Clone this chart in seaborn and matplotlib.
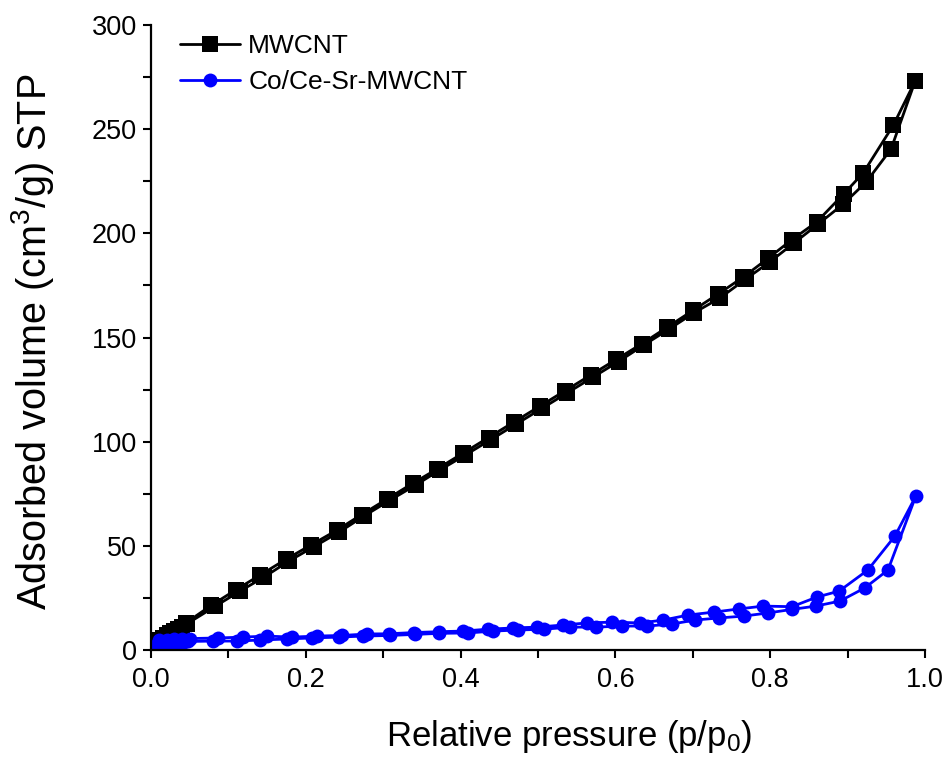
import matplotlib
matplotlib.use("Agg")
import matplotlib.pyplot as plt
import seaborn as sns
import pandas as pd
from matplotlib.ticker import MultipleLocator, FormatStrFormatter

# N2 adsorption / desorption isotherms (p/p0 vs adsorbed volume, cm3/g STP)
mw_ads_p = [0.005, 0.010, 0.015, 0.020, 0.025, 0.030, 0.035, 0.040, 0.046,
            0.083, 0.115, 0.146, 0.178, 0.210, 0.243, 0.275, 0.309, 0.342,
            0.373, 0.406, 0.439, 0.472, 0.505, 0.538, 0.571, 0.604, 0.637,
            0.669, 0.702, 0.735, 0.768, 0.800, 0.831, 0.862, 0.894, 0.924,
            0.956, 0.987]
mw_ads_v = [4.0, 5.0, 6.0, 7.0, 8.0, 9.0, 10.0, 11.0, 12.5,
            21.0, 28.3, 35.0, 42.7, 49.5, 56.6, 64.3, 72.0, 79.2,
            86.4, 93.6, 101.0, 108.5, 116.0, 123.5, 131.0, 138.5, 146.5,
            154.0, 162.0, 169.0, 178.0, 186.5, 195.5, 204.5, 214.0, 224.7,
            240.5, 273.0]
mw_des_p = [0.959, 0.920, 0.895, 0.860, 0.828, 0.797, 0.765, 0.733, 0.700,
            0.667, 0.634, 0.601, 0.568, 0.535, 0.502, 0.469, 0.436, 0.403,
            0.370, 0.338, 0.305, 0.272, 0.240, 0.207, 0.174, 0.141, 0.110,
            0.078, 0.045]
mw_des_v = [252.0, 229.0, 219.0, 205.5, 197.0, 188.0, 179.0, 171.0, 163.0,
            155.0, 147.0, 139.5, 132.0, 124.5, 117.0, 109.5, 102.0, 94.5,
            87.0, 80.0, 72.5, 65.0, 57.5, 50.5, 43.5, 36.0, 29.0,
            21.5, 13.0]

co_ads_p = [0.002, 0.005, 0.008, 0.012, 0.016, 0.020, 0.025, 0.030, 0.036,
            0.042, 0.048, 0.080, 0.111, 0.141, 0.176, 0.208, 0.243, 0.274,
            0.309, 0.341, 0.372, 0.410, 0.442, 0.474, 0.508, 0.541, 0.575,
            0.608, 0.641, 0.673, 0.703, 0.734, 0.766, 0.797, 0.828, 0.859,
            0.890, 0.922, 0.952, 0.988]
co_ads_v = [1.5, 2.0, 2.4, 2.8, 3.1, 3.3, 3.5, 3.7, 3.9,
            4.0, 4.1, 4.3, 4.3, 4.8, 5.3, 5.8, 6.2, 6.7,
            7.0, 7.5, 8.0, 8.2, 9.1, 9.6, 10.0, 11.0, 11.0,
            11.5, 11.5, 12.5, 14.4, 15.4, 16.3, 17.8, 19.5, 21.1,
            23.5, 29.8, 38.4, 73.9]
co_des_p = [0.961, 0.926, 0.889, 0.860, 0.828, 0.791, 0.759, 0.727, 0.694,
            0.662, 0.632, 0.596, 0.563, 0.532, 0.499, 0.468, 0.435, 0.403,
            0.372, 0.340, 0.307, 0.279, 0.247, 0.214, 0.182, 0.150, 0.119,
            0.087, 0.050, 0.040, 0.030, 0.020, 0.010]
co_des_v = [54.7, 38.4, 28.3, 25.4, 20.8, 21.1, 19.7, 18.2, 16.8,
            14.4, 13.0, 13.4, 13.0, 12.0, 11.0, 10.6, 10.0, 9.1,
            8.8, 8.4, 7.8, 7.7, 7.0, 6.7, 6.2, 6.7, 6.2,
            5.8, 5.5, 5.3, 5.1, 4.9, 4.7]

samples = ["MWCNT", "Co/Ce-Sr-MWCNT"]
colors = ["#000000", "#0000FF"]
markers = ["s", "o"]

frames = []
for name, p, v in [(samples[0], mw_ads_p + mw_des_p, mw_ads_v + mw_des_v),
                   (samples[1], co_ads_p + co_des_p, co_ads_v + co_des_v)]:
    frames.append(pd.DataFrame({"p": p, "v": v, "sample": name,
                                "order": range(len(p))}))
df = pd.concat(frames, ignore_index=True)

sns.set_style("ticks")
plt.rcParams["font.family"] = ["Liberation Sans", "DejaVu Sans"]
plt.rcParams["mathtext.default"] = "regular"
plt.rcParams["text.color"] = "black"
plt.rcParams["axes.labelcolor"] = "black"

fig = plt.figure(figsize=(9.44, 7.6), dpi=100)
ax = fig.add_axes([0.16, 0.1447, 0.82, 0.8223])

for name, col, mk, ms in zip(samples, colors, markers, [11, 10]):
    sub = df[df["sample"] == name]
    sns.lineplot(data=sub, x="p", y="v", sort=False, estimator=None,
                 color=col, marker=mk, markersize=ms, markeredgewidth=0,
                 linewidth=2.0, label=name, ax=ax)

ax.set_xlim(0, 1.0)
ax.set_ylim(0, 300)
ax.xaxis.set_major_locator(MultipleLocator(0.2))
ax.xaxis.set_minor_locator(MultipleLocator(0.1))
ax.yaxis.set_major_locator(MultipleLocator(50))
ax.yaxis.set_minor_locator(MultipleLocator(25))
ax.xaxis.set_major_formatter(FormatStrFormatter("%.1f"))

for s in ["top", "right"]:
    ax.spines[s].set_visible(False)
for s in ["left", "bottom"]:
    ax.spines[s].set_linewidth(1.6)
    ax.spines[s].set_color("black")

ax.tick_params(which="both", direction="out", length=6, width=1.5,
               colors="black", labelsize=19.5)
ax.tick_params(axis="x", which="major", pad=6)
ax.tick_params(axis="y", which="major", pad=4)

ax.set_xlabel("Relative pressure (p/p$_0$)", fontsize=25)
ax.xaxis.set_label_coords(0.54, -0.108)
ax.set_ylabel("Adsorbed volume (cm$^3$/g) STP", fontsize=28.5)
ax.yaxis.set_label_coords(-0.123, 0.494)

leg = ax.legend(loc="upper left", bbox_to_anchor=(0.037, 0.985), frameon=False,
                fontsize=19, handlelength=2.3, handletextpad=0.3,
                labelspacing=0.45, borderpad=0.0, borderaxespad=0.0)
for t in leg.get_texts():
    t.set_color("black")

fig.savefig("out.png", dpi=100)
